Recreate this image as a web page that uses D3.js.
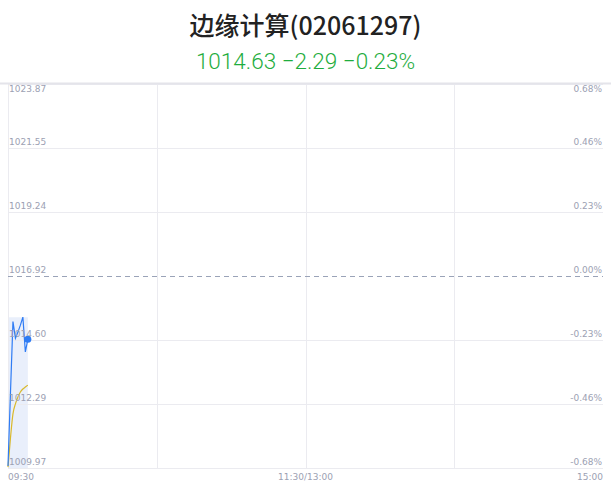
<!DOCTYPE html>
<html>
<head>
<meta charset="utf-8">
<script src="https://cdn.jsdelivr.net/npm/d3@7"></script>
<style>
  body { margin: 0; background: #fff; }
  svg { display: block; font-family: "Noto Sans CJK SC", "Noto Sans", sans-serif; }
</style>
</head>
<body>
<svg id="chart"></svg>
<script>
// data
const title = "边缘计算(02061297)";
const subtitle = "1014.63 \u22122.29 \u22120.23%";
const prevClose = 1016.92;
const priceTicks = [1023.87, 1021.55, 1019.24, 1016.92, 1014.60, 1012.29, 1009.97];
const pctTicks = ["0.68%", "0.46%", "0.23%", "0.00%", "-0.23%", "-0.46%", "-0.68%"];
const timeLabels = ["09:30", "11:30/13:00", "15:00"];
const minutes = [0, 1, 2, 3, 4, 5, 6, 7, 8];
const price = [1010.04, 1012.7, 1015.27, 1014.67, 1014.89, 1015.14, 1015.43, 1014.17, 1014.63];
const avgPrice = [1010.0, 1011.06, 1011.93, 1012.29, 1012.54, 1012.72, 1012.83, 1012.9, 1012.97];

const width = 611, height = 492;
const margin = { top: 84, right: 8, bottom: 24, left: 8 };
const innerW = width - margin.left - margin.right;
const innerH = height - margin.top - margin.bottom;

const svg = d3.select("#chart").attr("width", width).attr("height", height);

svg.append("text").attr("x", width / 2).attr("y", 35).attr("text-anchor", "middle")
  .attr("font-size", 25).attr("font-weight", 500).attr("fill", "#222").text(title);
svg.append("text").attr("x", width / 2).attr("y", 69).attr("text-anchor", "middle")
  .attr("font-size", 22.5).attr("font-weight", 300).attr("fill", "#1fad3e").attr("font-family", "Roboto, sans-serif").text(subtitle);

const g = svg.append("g").attr("transform", `translate(${margin.left},${margin.top})`);

const x = d3.scaleLinear().domain([0, 240]).range([0, innerW]);
const y = d3.scaleLinear().domain([priceTicks[6], priceTicks[0]]).range([innerH, 0]);

const pts = minutes.map((m, i) => ({ m, p: price[i], a: avgPrice[i] }));

// shaded block under the session so far
g.append("path").datum(pts)
  .attr("d", d3.area().x(d => x(d.m)).y0(innerH).y1(y(d3.max(price))))
  .attr("fill", "#e9effb");

// top border
svg.append("line").attr("x1", 0).attr("x2", width).attr("y1", margin.top - 0.5).attr("y2", margin.top - 0.5)
  .attr("stroke", "#e4e4ea").attr("stroke-width", 2);

// horizontal grid
g.selectAll(".hgrid").data(priceTicks.filter(d => d !== prevClose)).join("line").attr("class", "hgrid")
  .attr("x1", 0).attr("x2", innerW)
  .attr("y1", d => Math.round(y(d)) + 0.5).attr("y2", d => Math.round(y(d)) + 0.5)
  .attr("stroke", "#ebebf0");

// vertical grid
g.selectAll(".vgrid").data([0, 60, 120, 180]).join("line").attr("class", "vgrid")
  .attr("x1", d => Math.round(x(d)) + 0.5).attr("x2", d => Math.round(x(d)) + 0.5)
  .attr("y1", 0).attr("y2", innerH)
  .attr("stroke", "#ebebf0");

// previous close dashed
g.append("line").attr("x1", 0).attr("x2", innerW)
  .attr("y1", Math.round(y(prevClose)) + 0.5).attr("y2", Math.round(y(prevClose)) + 0.5)
  .attr("stroke", "#9aa3b8").attr("stroke-dasharray", "5,4");

// avg line
g.append("path").datum(pts)
  .attr("d", d3.line().x(d => x(d.m)).y(d => y(d.a)).curve(d3.curveMonotoneX))
  .attr("fill", "none").attr("stroke", "#d9b92c").attr("stroke-width", 1.2);

// price line
g.append("path").datum(pts)
  .attr("d", d3.line().x(d => x(d.m)).y(d => y(d.p)))
  .attr("fill", "none").attr("stroke", "#2f7cf4").attr("stroke-width", 1.2);

const last = pts[pts.length - 1];
g.append("circle").attr("cx", x(last.m)).attr("cy", y(last.p)).attr("r", 3.5).attr("fill", "#2f7cf4");

// left labels
g.selectAll(".ly").data(priceTicks).join("text").attr("class", "ly")
  .attr("x", 1).attr("y", (d, i) => i === 0 ? y(d) + 8 : y(d) - 3)
  .attr("font-size", 9).attr("fill", "#9ca1b3").attr("font-family", "DejaVu Sans, sans-serif")
  .text(d => d.toFixed(2));

// right labels
g.selectAll(".ry").data(pctTicks).join("text").attr("class", "ry")
  .attr("x", innerW - 1).attr("y", (d, i) => i === 0 ? y(priceTicks[i]) + 8 : y(priceTicks[i]) - 3)
  .attr("text-anchor", "end")
  .attr("font-size", 9).attr("fill", "#9ca1b3").attr("font-family", "DejaVu Sans, sans-serif")
  .text(d => d);

// time labels
g.selectAll(".tx").data(timeLabels).join("text").attr("class", "tx")
  .attr("x", (d, i) => x(i * 120)).attr("y", innerH + 12)
  .attr("text-anchor", (d, i) => ["start", "middle", "end"][i])
  .attr("font-size", 9).attr("fill", "#9ca1b3").attr("font-family", "DejaVu Sans, sans-serif")
  .text(d => d);
</script>
</body>
</html>
